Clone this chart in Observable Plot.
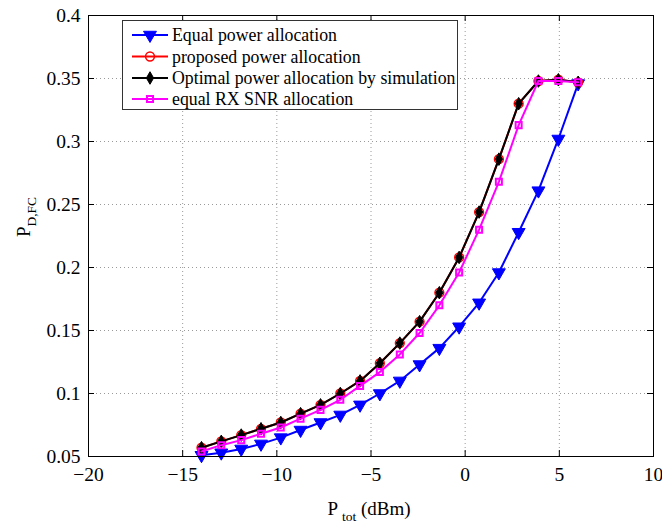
<!DOCTYPE html>
<html><head><meta charset="utf-8">
<script src="https://cdn.jsdelivr.net/npm/d3@7"></script>
<script src="https://cdn.jsdelivr.net/npm/@observablehq/plot@0.6"></script>
<style>body{margin:0;background:#fff}</style>
</head><body><div id="chart"></div>
<script>
// Total power P_tot (dBm)
const ptot = [-14, -12.95, -11.89, -10.84, -9.79, -8.74, -7.68, -6.63, -5.58, -4.53, -3.47, -2.42, -1.37, -0.32, 0.74, 1.79, 2.84, 3.89, 4.95, 6];
const equalPower = [0.051, 0.053, 0.056, 0.060, 0.065, 0.071, 0.077, 0.083, 0.091, 0.100, 0.110, 0.123, 0.136, 0.153, 0.172, 0.196, 0.228, 0.261, 0.302, 0.346];
const proposed   = [0.057, 0.062, 0.067, 0.072, 0.077, 0.084, 0.091, 0.100, 0.110, 0.124, 0.140, 0.157, 0.180, 0.208, 0.244, 0.286, 0.330, 0.348, 0.349, 0.347];
const optimal    = [0.057, 0.062, 0.067, 0.072, 0.077, 0.084, 0.091, 0.100, 0.110, 0.124, 0.140, 0.157, 0.180, 0.208, 0.244, 0.286, 0.330, 0.348, 0.349, 0.347];
const equalSnr   = [0.054, 0.059, 0.063, 0.068, 0.073, 0.080, 0.087, 0.095, 0.106, 0.117, 0.131, 0.148, 0.170, 0.196, 0.230, 0.268, 0.313, 0.348, 0.348, 0.347];

const xTicks = [-20, -15, -10, -5, 0, 5, 10];
const yTicks = [0.05, 0.1, 0.15, 0.2, 0.25, 0.3, 0.35, 0.4];
const seriesNames = ["Equal power allocation", "proposed power allocation", "Optimal power allocation by simulation", "equal RX SNR allocation"];
const seriesColors = ["#0000ff", "#ff0000", "#000000", "#ff00ff"];
const seriesValues = [equalPower, proposed, optimal, equalSnr];

const W = 662, H = 525, mL = 88, mR = 9, mT = 15, mB = 69;
const plotW = W - mL - mR, plotH = H - mT - mB;
const FONT = "'Liberation Serif', 'Times New Roman', serif";

const rows = seriesValues.map((vals, s) => ptot.map((x, i) => ({x, y: vals[i], s})));

// marker styles per series
const markerOpts = [
  {symbol: "triangle", rotate: 180, r: 4.8, fill: seriesColors[0], stroke: seriesColors[0], strokeWidth: 1},
  {symbol: "circle", r: 4.4, fill: "none", stroke: seriesColors[1], strokeWidth: 1.5},
  {symbol: "diamond", r: 3.8, fill: "#000", stroke: "#000", strokeWidth: 1},
  {symbol: "square", r: 3.4, fill: "none", stroke: seriesColors[3], strokeWidth: 2}
];

const marks = [
  Plot.ruleX(xTicks.slice(1, -1), {stroke: "#9a9a9a", strokeDasharray: "1,3", strokeWidth: 1}),
  Plot.ruleY(yTicks.slice(1, -1), {stroke: "#9a9a9a", strokeDasharray: "1,3", strokeWidth: 1}),
];
rows.forEach((data, s) => {
  marks.push(Plot.line(data, {x: "x", y: "y", stroke: seriesColors[s], strokeWidth: 2}));
  marks.push(Plot.dot(data, {x: "x", y: "y", ...markerOpts[s]}));
});
marks.push(
  Plot.ruleX(xTicks, {stroke: "#000", insetTop: plotH - 6}),
  Plot.ruleX(xTicks, {stroke: "#000", insetBottom: plotH - 6}),
  Plot.ruleY(yTicks, {stroke: "#000", insetRight: plotW - 6}),
  Plot.ruleY(yTicks, {stroke: "#000", insetLeft: plotW - 6}),
  Plot.frame({stroke: "#000", strokeWidth: 1})
);

const svg = Plot.plot({
  width: W, height: H,
  marginLeft: mL, marginRight: mR, marginTop: mT, marginBottom: mB,
  style: {fontFamily: FONT, fontSize: "19.5px", color: "#000", background: "#fff"},
  x: {domain: [-20, 10], ticks: xTicks, tickSize: 0, tickPadding: 11, label: null},
  y: {domain: [0.05, 0.4], ticks: yTicks, tickSize: 0, tickPadding: 8, label: null,
      tickFormat: d => String(+d.toFixed(2))},
  marks
});
document.getElementById("chart").appendChild(svg);

const g = d3.select(svg).append("g").attr("font-family", FONT).attr("fill", "#000");

// Y-axis label P_{D,FC}
const yl = g.append("text")
  .attr("transform", "translate(30,217) rotate(-90)")
  .attr("text-anchor", "middle").attr("font-size", 19);
yl.append("tspan").text("P");
yl.append("tspan").attr("font-size", 13.5).attr("dy", 6).text("D,FC");

// X-axis label P_tot (dBm)
const xl = g.append("text")
  .attr("x", 369).attr("y", 515)
  .attr("text-anchor", "middle").attr("font-size", 19);
xl.append("tspan").text("P ");
xl.append("tspan").attr("font-size", 13.5).attr("dy", 6).text("tot");
xl.append("tspan").attr("dy", -6).text(" (dBm)");

// Legend
const lg = g.append("g");
lg.append("rect").attr("x", 122.5).attr("y", 20.5).attr("width", 335).attr("height", 89)
  .attr("fill", "#fff").attr("stroke", "#333").attr("stroke-width", 1);
const symTypes = [d3.symbolTriangle, d3.symbolCircle, d3.symbolDiamond, d3.symbolSquare];
const rowY = [35, 56.5, 78, 99];
seriesNames.forEach((name, s) => {
  const y = rowY[s];
  lg.append("line").attr("x1", 132).attr("x2", 168).attr("y1", y).attr("y2", y)
    .attr("stroke", seriesColors[s]).attr("stroke-width", 2);
  const m = markerOpts[s];
  lg.append("path")
    .attr("d", d3.symbol(symTypes[s], Math.PI * m.r * m.r)())
    .attr("transform", `translate(150,${y})` + (m.rotate ? ` rotate(${m.rotate})` : ""))
    .attr("fill", m.fill).attr("stroke", m.stroke).attr("stroke-width", m.strokeWidth);
  lg.append("text").attr("x", 172).attr("y", y).attr("dy", "0.35em")
    .attr("text-anchor", "start").attr("font-size", 17.8).text(name);
});
</script>
</body></html>
